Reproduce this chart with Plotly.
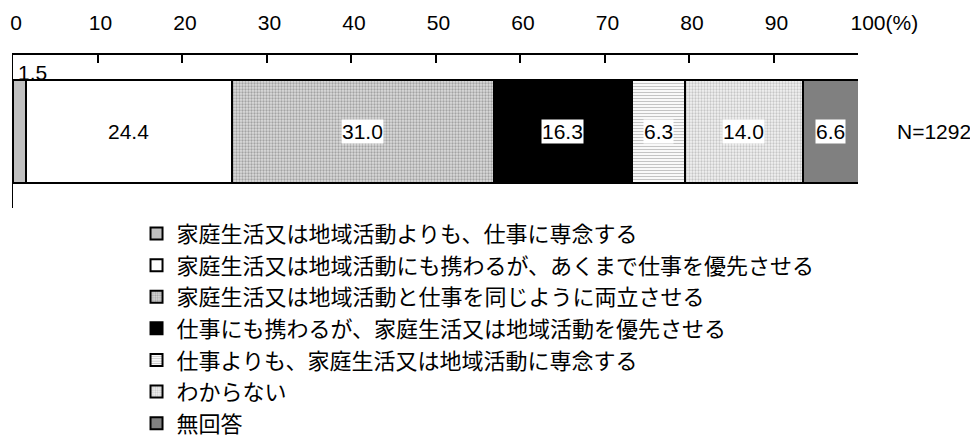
import numpy as np
import plotly.graph_objects as go

# answer categories (legend order) and shares in %
categories = [
    "家庭生活又は地域活動よりも、仕事に専念する",
    "家庭生活又は地域活動にも携わるが、あくまで仕事を優先させる",
    "家庭生活又は地域活動と仕事を同じように両立させる",
    "仕事にも携わるが、家庭生活又は地域活動を優先させる",
    "仕事よりも、家庭生活又は地域活動に専念する",
    "わからない",
    "無回答",
]
values = [1.5, 24.4, 31.0, 16.3, 6.3, 14.0, 6.6]
row_label = ["全体"]
sample_note = "N=1292"
tick_vals = [0, 10, 20, 30, 40, 50, 60, 70, 80, 90, 100]
# the last label carries the unit; leading nbsp keep "100" near its tick
tick_text = ["0", "10", "20", "30", "40", "50", "60", "70", "80", "90",
             "\u00a0" * 8 + "100(%)"]

# fill styles (solid colour or pattern) per segment
styles = [
    dict(color="#c0c0c0"),
    dict(color="#ffffff"),
    dict(color="#dcdcdc", pattern=dict(shape=".", fgcolor="#6a6a6a",
                                       bgcolor="#dcdcdc", size=3, solidity=0.45)),
    dict(color="#000000"),
    dict(color="#ffffff", pattern=dict(shape="-", fgcolor="#8a8a8a",
                                       bgcolor="#ffffff", size=3, solidity=0.4)),
    dict(color="#ffffff", pattern=dict(shape=".", fgcolor="#9a9a9a",
                                       bgcolor="#f2f2f2", size=3, solidity=0.45)),
    dict(color="#808080"),
]
# which labels get a white box behind them
boxed = [False, False, True, True, True, True, True]

NUM_FONT = "Liberation Sans, Arial, sans-serif"
JP_FONT = "Noto Sans CJK JP, sans-serif"

fig = go.Figure()
for name, v, st in zip(categories, values, styles):
    fig.add_trace(go.Bar(
        y=row_label, x=[v], name=name, orientation="h",
        marker=dict(**st, line=dict(color="black", width=2)),
        width=0.673,
        hoverinfo="skip",
    ))

# segment labels at the middle of each segment
starts = np.concatenate([[0], np.cumsum(values)[:-1]])
for i, (s, v) in enumerate(zip(starts, values)):
    if i == 0:
        # the thin first segment gets its label above the bar
        fig.add_annotation(x=s, y=row_label[0], text=f"{v:.1f}",
                           xanchor="left", yanchor="middle",
                           xshift=3, yshift=59, showarrow=False,
                           font=dict(family=NUM_FONT, size=21, color="black"))
        continue
    fig.add_annotation(x=s + v / 2, y=row_label[0], text=f"{v:.1f}",
                       showarrow=False, bgcolor="white" if boxed[i] else None,
                       borderpad=0,
                       font=dict(family=NUM_FONT, size=21, color="black"))

fig.add_annotation(x=1.044, xref="paper", y=row_label[0], text=sample_note,
                   xanchor="left", showarrow=False,
                   font=dict(family=NUM_FONT, size=21, color="black"))

# the page body adds an 8px offset, so the figure is 8px smaller each way
fig.update_layout(
    barmode="stack",
    width=970, height=431,
    margin=dict(l=4.5, r=120, t=47, b=231, autoexpand=False),
    paper_bgcolor="white", plot_bgcolor="white",
    showlegend=True,
    legend=dict(x=0.1325, y=0.525, xref="container", yref="container",
                xanchor="left", yanchor="top", maxheight=1,
                traceorder="normal", orientation="v",
                font=dict(family=JP_FONT, size=22, color="black"),
                bgcolor="rgba(0,0,0,0)", tracegroupgap=0),
)
fig.update_xaxes(
    side="top", range=[0, 100], tickvals=tick_vals, ticktext=tick_text,
    showline=True, linecolor="black", linewidth=1.5,
    ticks="inside", ticklen=8, tickcolor="black", tickwidth=1.5,
    showgrid=False, zeroline=False, ticklabelstandoff=15, automargin=False,
    ticklabeloverflow="allow", ticklabelshift=3,
    tickfont=dict(family=NUM_FONT, size=21, color="black"),
)
fig.update_yaxes(
    showline=True, linecolor="black", linewidth=1,
    ticks="inside", ticklen=7, tickcolor="black", tickson="boundaries",
    showticklabels=False, showgrid=False, zeroline=False, automargin=False,
)

fig.write_html("out.html")
